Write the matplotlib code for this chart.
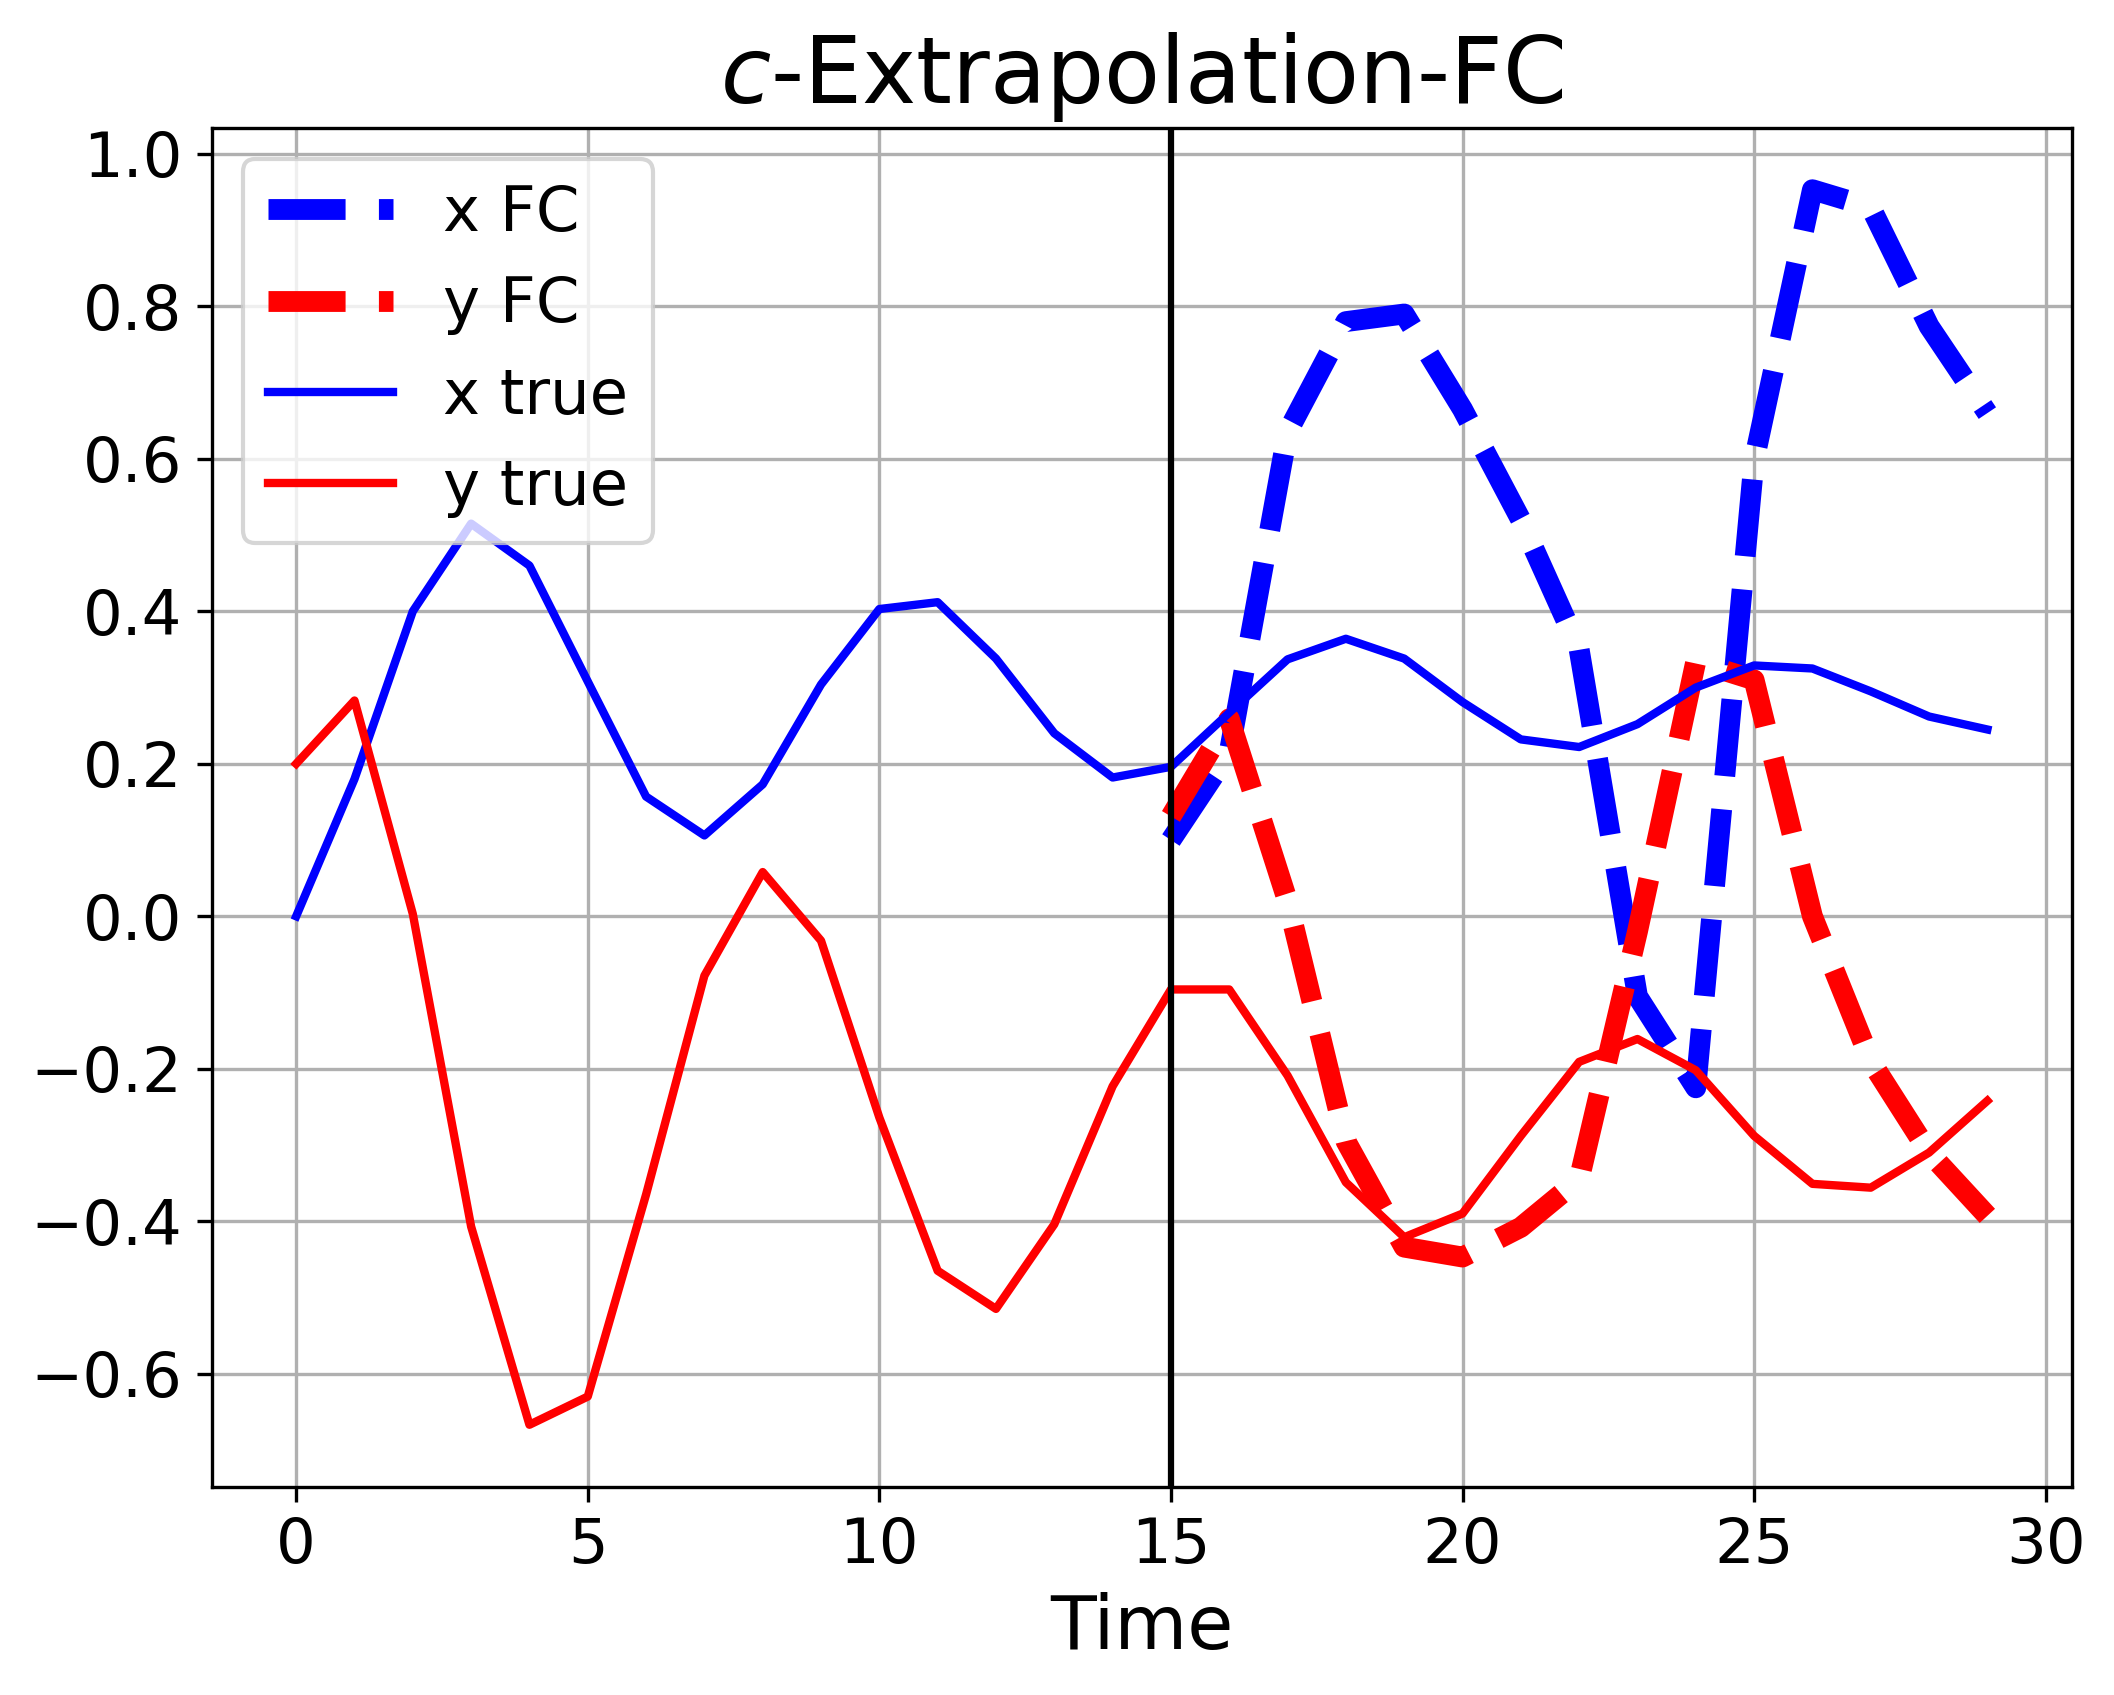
import matplotlib
matplotlib.use("Agg")
import matplotlib.pyplot as plt

t_true = list(range(30))
x_true = [0.0, 0.18, 0.40, 0.515, 0.46, 0.308, 0.157, 0.106, 0.173, 0.304,
          0.403, 0.412, 0.338, 0.24, 0.182, 0.196, 0.267, 0.337, 0.364, 0.338,
          0.281, 0.232, 0.222, 0.252, 0.30, 0.329, 0.325, 0.295, 0.262, 0.245]
y_true = [0.2, 0.283, 0.003, -0.407, -0.667, -0.63, -0.365, -0.078, 0.058, -0.032,
          -0.264, -0.465, -0.515, -0.404, -0.223, -0.096, -0.096, -0.209, -0.349, -0.421,
          -0.39, -0.288, -0.191, -0.161, -0.202, -0.288, -0.351, -0.356, -0.31, -0.242]

t_fc = list(range(15, 30))
x_fc = [0.10, 0.215, 0.635, 0.78, 0.79, 0.665, 0.52, 0.35, -0.105, -0.225,
        0.598, 0.953, 0.93, 0.774, 0.66]
y_fc = [0.131, 0.259, 0.02, -0.295, -0.434, -0.447, -0.408, -0.345, -0.02, 0.334,
        0.31, 0.0, -0.19, -0.31, -0.393]

split_t = 15

fig = plt.figure(figsize=(2114 / 300, 1695 / 300), dpi=300)
ax = fig.add_axes([0.1001, 0.1230, 0.8800, 0.8015])

ax.plot(t_fc, x_fc, '--', color='blue', lw=5, label='x FC')
ax.plot(t_fc, y_fc, '--', color='red', lw=5, label='y FC')
ax.plot(t_true, x_true, '-', color='blue', lw=2, label='x true')
ax.plot(t_true, y_true, '-', color='red', lw=2, label='y true')
ax.axvline(split_t, color='black', lw=1.5)

ax.grid(True)
ax.set_title('$c$-Extrapolation-FC', fontsize=22)
ax.set_xlabel('Time', fontsize=18)
ax.tick_params(labelsize=15)
ax.legend(loc='upper left', fontsize=15)

fig.savefig('out.png', dpi=300)
